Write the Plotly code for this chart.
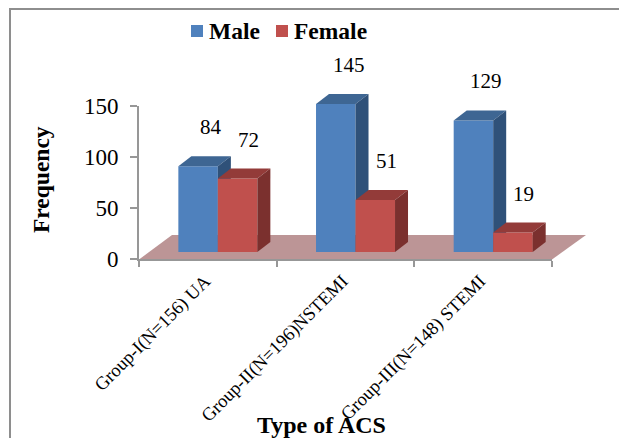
import plotly.graph_objects as go

categories = ["Group-I(N=156) UA", "Group-II(N=196)NSTEMI", "Group-III(N=148) STEMI"]
male = [84, 145, 129]
female = [72, 51, 19]
series_names = ["Male", "Female"]
y_ticks = [0, 50, 100, 150]

W, H = 619, 438
SERIF = "Liberation Serif"
GREY = "#979797"
BLUE = "#4F81BD"
RED = "#C0504D"

# Pixel geometry of the pseudo-3D projection
CAT_PX = 137.67          # pixels per category
VAL_PX = 1.02            # pixels per value unit
CENTER0_PX = 217.85      # centre of first bar pair
BASE_PX = 252            # y-pixel of the bar front base
DOM_X = (0, 619)
DOM_Y = (0, 438)
BAR_W = 39.5 / CAT_PX
DX = 13 / CAT_PX
DY = 10 / VAL_PX


def fx(px):
    return px / W


def fy(py):
    return 1 - py / H


def ux(px):
    return (px - CENTER0_PX) / CAT_PX


def uy(py):
    return (BASE_PX - py) / VAL_PX


x_range = [ux(DOM_X[0]), ux(DOM_X[1])]
y_range = [uy(DOM_Y[1]), uy(DOM_Y[0])]
idx = list(range(len(categories)))

fig = go.Figure()

# Base axes: category ticks and value ticks
fig.add_trace(go.Scatter(x=categories, y=[0] * 3, mode="none", showlegend=False,
                         hoverinfo="skip", xaxis="x", yaxis="y"))


def add_series(name, values, offset, front, top, side, xa, ya):
    fig.add_trace(go.Bar(x=idx, y=values, name=name, width=BAR_W, offset=offset,
                         marker=dict(color=front, line=dict(width=0)),
                         showlegend=False, xaxis=xa, yaxis=ya))
    for i, v in zip(idx, values):
        left = i + offset
        right = left + BAR_W
        fig.add_trace(go.Scatter(
            x=[left, right, right + DX, left + DX, left],
            y=[v, v, v + DY, v + DY, v],
            fill="toself", fillcolor=top, mode="none", showlegend=False,
            hoverinfo="skip", xaxis=xa, yaxis=ya))
        fig.add_trace(go.Scatter(
            x=[right, right + DX, right + DX, right, right],
            y=[0, DY, v + DY, v, 0],
            fill="toself", fillcolor=side, mode="none", showlegend=False,
            hoverinfo="skip", xaxis=xa, yaxis=ya))


add_series(series_names[0], male, -BAR_W, BLUE, "#3E6693", "#2F5179", "x2", "y2")
add_series(series_names[1], female, 0, RED, "#933B39", "#7B302E", "x3", "y3")

annotations = []
for i in idx:
    for values, off, xa, ya, shift in ((male, -BAR_W / 2, "x2", "y2", 13),
                                       (female, BAR_W / 2, "x3", "y3", 11)):
        annotations.append(dict(x=i + off, y=values[i], xref=xa, yref=ya, text=str(values[i]),
                                showarrow=False, xshift=shift, yshift=39, yanchor="middle",
                                xanchor="center", font=dict(family=SERIF, size=21, color="black")))

annotations.append(dict(x=ux(41), y=uy(180), xref="x2", yref="y2", text="<b>Frequency</b>",
                        textangle=-90, showarrow=False, xanchor="center", yanchor="middle",
                        font=dict(family=SERIF, size=23.5, color="black")))
annotations.append(dict(x=ux(321.5), y=uy(425), xref="x2", yref="y2", text="<b>Type of ACS</b>",
                        showarrow=False, xanchor="center", yanchor="middle",
                        font=dict(family=SERIF, size=24, color="black")))

# Legend entries: swatch left edge, text left edge
legend_layout = ((series_names[0], BLUE, 191, 209), (series_names[1], RED, 276, 294))
for name, colour, sw, tx in legend_layout:
    annotations.append(dict(x=ux(tx), y=uy(31), xref="x2", yref="y2", text=f"<b>{name}</b>",
                            showarrow=False, xanchor="left", yanchor="middle", borderpad=0,
                            borderwidth=0, font=dict(family=SERIF, size=23.5, color="black")))

shapes = [
    # chart frame (runs off the right and bottom of the picture)
    dict(type="path", xref="paper", yref="paper", layer="below",
         path=f"M {fx(10)},{fy(460)} L {fx(10)},{fy(9)} L {fx(640)},{fy(9)}",
         line=dict(color="#8E8E8E", width=2)),
    # floor
    dict(type="path", xref="paper", yref="paper", layer="below",
         path=f"M {fx(139)},{fy(259.5)} L {fx(172)},{fy(235)} L {fx(586)},{fy(235)} L {fx(552)},{fy(259.5)} Z",
         fillcolor="#BC9596", line=dict(width=0)),
]
for name, colour, sw, tx in legend_layout:
    shapes.append(dict(type="rect", xref="paper", yref="paper", x0=fx(sw), x1=fx(sw + 12),
                       y0=fy(37), y1=fy(25), fillcolor=colour, line=dict(width=0)))

overlay = dict(visible=False, fixedrange=True, automargin=False)
fig.update_layout(
    template="none",
    width=W, height=H, autosize=False,
    margin=dict(l=0, r=0, t=0, b=0, pad=0),
    paper_bgcolor="white", plot_bgcolor="rgba(0,0,0,0)",
    font=dict(family=SERIF, color="black"),
    showlegend=False,
    xaxis=dict(domain=[fx(139), fx(552)], type="category", categoryorder="array",
               categoryarray=categories, range=[-0.5, 2.5], tickson="boundaries",
               ticks="outside", ticklen=6, tickwidth=2, tickcolor=GREY, showgrid=False,
               showline=True, linecolor=GREY, linewidth=2, zeroline=False, tickangle=-45,
               automargin=False, ticklabelshift=-3, ticklabelstandoff=2,
               tickfont=dict(family=SERIF, size=18.5, color="black"), anchor="y"),
    yaxis=dict(domain=[fy(259), fy(106)], range=[0, 150], tickvals=y_ticks, ticks="outside",
               ticklen=7, tickwidth=2, tickcolor=GREY, showgrid=False, showline=True,
               linecolor=GREY, linewidth=2, zeroline=False, automargin=False,
               ticklabelstandoff=7,
               tickfont=dict(family=SERIF, size=23, color="black"), anchor="x"),
    xaxis2=dict(domain=[fx(DOM_X[0]), fx(DOM_X[1])], range=x_range, anchor="y2", **overlay),
    yaxis2=dict(domain=[fy(DOM_Y[1]), fy(DOM_Y[0])], range=y_range, anchor="x2", **overlay),
    xaxis3=dict(domain=[fx(DOM_X[0]), fx(DOM_X[1])], range=x_range, anchor="y3", **overlay),
    yaxis3=dict(domain=[fy(DOM_Y[1]), fy(DOM_Y[0])], range=y_range, anchor="x3", **overlay),
    annotations=annotations,
    shapes=shapes,
)

fig.write_html("out.html", config=dict(displayModeBar=False),
               post_script="document.body.style.margin='0';document.body.style.overflow='hidden';")
